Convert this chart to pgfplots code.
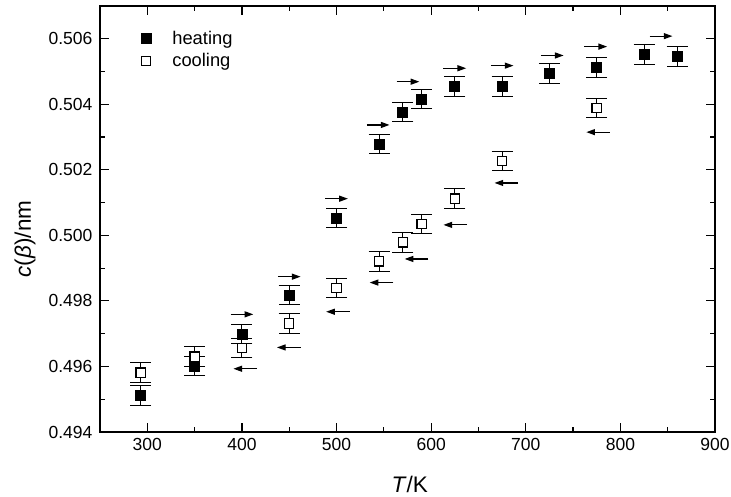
\documentclass[border=0pt]{standalone}
\usepackage{fontspec}
\setmainfont{Liberation Sans}
\usepackage{pgfplots}
\pgfplotsset{compat=1.18}
\usetikzlibrary{arrows.meta}
\begin{document}
\begin{tikzpicture}
\begin{axis}[
  scale only axis, width=369pt, height=255.6pt,
  xmin=250, xmax=900, ymin=0.494, ymax=0.507,
  xtick={300,400,...,900}, minor x tick num=1,
  ytick={0.494,0.496,...,0.5065}, minor y tick num=1,
  tick align=inside,
  major tick length=5.4pt, minor tick length=2.8pt,
  axis line style={line width=1pt},
  every tick/.style={black, line width=0.7pt},
  /pgf/number format/assume math mode=true,
  yticklabel style={/pgf/number format/fixed, /pgf/number format/precision=3, /pgf/number format/fixed zerofill},
  scaled y ticks=false,
  xticklabel style={font=\fontsize{10.5}{12}\selectfont},
  yticklabel style={font=\fontsize{10.5}{12}\selectfont, xshift=-1pt},
  xlabel={\textit{T}/K}, ylabel={\textit{c}(\textit{β})/nm},
  every axis x label/.style={at={(axis description cs:0.5,0)}, xshift=1.3pt, yshift=-31.2pt, anchor=center, font=\fontsize{13.5}{15}\selectfont},
  every axis y label/.style={at={(axis description cs:0,0.5)}, xshift=-45pt, yshift=-12pt, rotate=90, anchor=center, font=\fontsize{13.5}{15}\selectfont},
  legend style={at={(axis description cs:0.058,0.958)}, anchor=north west, draw=none, fill=none, font=\fontsize{11}{13}\selectfont, row sep=0pt},
  legend cell align=left,
  legend image code/.code={\draw[#1] plot coordinates {(0.25cm,0cm)}; \path[draw=none] (0.25cm,0cm) -- ++(13.8pt,0pt);},
]
\addplot[only marks, mark=square*, mark size=3pt, mark options={black, fill=black},
  error bars/.cd, y dir=both, y explicit, error bar style={black, line width=0.6pt},
  error mark options={rotate=90, mark size=6.3pt, line width=0.6pt}]
  table[x=x, y=y, y error=e]{
x y e
293 0.49512 0.0003
350 0.49601 0.0003
400 0.49699 0.0003
450 0.49818 0.0003
500 0.50053 0.0003
545 0.50279 0.0003
570 0.50377 0.0003
590 0.50416 0.0003
625 0.50454 0.0003
675 0.50454 0.0003
725 0.50494 0.0003
775 0.50513 0.0003
825 0.50552 0.0003
860 0.50546 0.0003
};
\addlegendentry{heating}
\addplot[only marks, mark=square*, mark size=2.8pt, mark options={black, fill=white, line width=0.7pt},
  error bars/.cd, y dir=both, y explicit, error bar style={black, line width=0.6pt},
  error mark options={rotate=90, mark size=6.3pt, line width=0.6pt}]
  table[x=x, y=y, y error=e]{
x y e
293 0.49581 0.0003
350 0.49630 0.0003
400 0.49656 0.0003
450 0.49731 0.0003
500 0.49839 0.0003
545 0.49921 0.0003
570 0.49979 0.0003
590 0.50035 0.0003
625 0.50112 0.0003
675 0.50227 0.0003
775 0.50389 0.0003
};
\addlegendentry{cooling}
% heating arrows (pointing right)
\addplot[black, line width=0.7pt, -{Triangle[length=5.2pt,width=3.6pt]},
  quiver={u=\thisrow{u}, v=0}, forget plot]
  table[x=x, y=y]{
x y u
388 0.49759 24
438 0.49874 24
488 0.50112 24
532 0.50337 24
563.5 0.50469 24
613 0.50510 24
663 0.50518 24
716 0.50549 24
762 0.50576 24
831 0.50608 24
};
% cooling arrows (pointing left)
\addplot[black, line width=0.7pt, -{Triangle[length=5.2pt,width=3.6pt]},
  quiver={u=\thisrow{u}, v=0}, forget plot]
  table[x=x, y=y]{
x y u
416 0.49593 -25
462 0.49658 -25
514 0.49767 -25
560 0.49856 -25
597 0.49928 -25
638 0.50032 -25
692 0.50160 -25
789 0.50315 -25
};
\end{axis}
\pgfresetboundingbox
\useasboundingbox ([xshift=-60pt, yshift=-39pt]current axis.south west) rectangle ([xshift=9.6pt, yshift=3.6pt]current axis.north east);
\end{tikzpicture}
\end{document}
